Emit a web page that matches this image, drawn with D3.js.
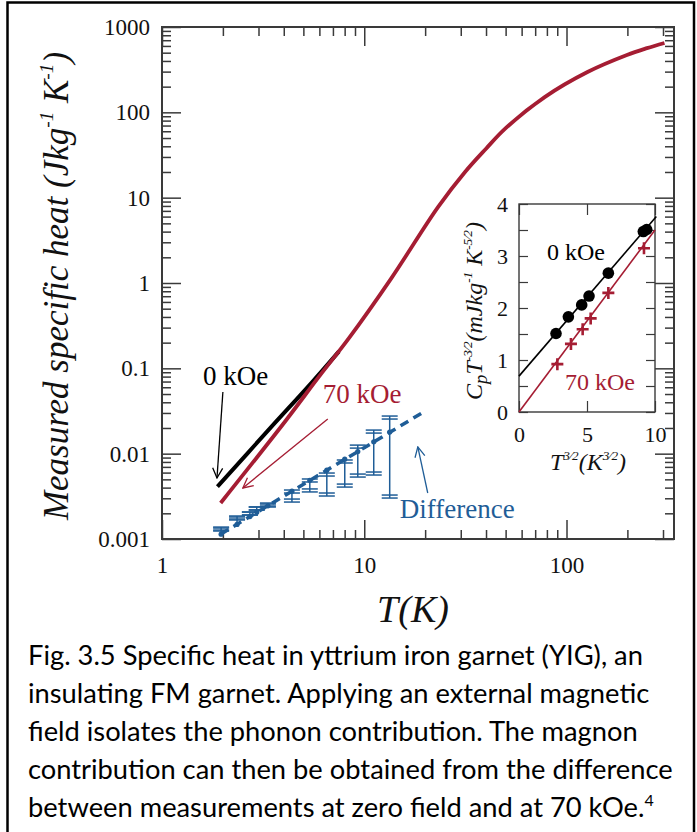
<!DOCTYPE html>
<html>
<head>
<meta charset="utf-8">
<script src="https://cdn.jsdelivr.net/npm/d3@7"></script>
<style>
  body { margin: 0; background: #fff; }
</style>
</head>
<body>
<div id="chart"></div>
<script>
// ---- data ----
// 0 kOe measurement (only the low-T part separates from 70 kOe)
const zeroT = [1.88, 3.4, 5.5, 7.5];
const zeroC = [0.0041, 0.0195, 0.068, 0.158];
// 70 kOe measurement
const fieldT = [1.95, 4.07, 6.0, 8.4, 13.6, 23.2, 31.5, 40, 49.6, 78, 127, 199, 250, 305];
const fieldC = [0.00264, 0.024, 0.081, 0.226, 1.135, 7.8, 20.0, 37.5, 64, 151, 297, 470, 565, 650];
// difference (magnon part) with error bars
const diffT = [1.96, 2.35, 2.72, 2.94, 3.34, 4.39, 5.38, 6.53, 8.01, 9.29, 11.14, 13.36];
const diffMid = [0.00114, 0.00148, 0.00183, 0.00206, 0.00245, 0.00363, 0.00488, 0.00641, 0.00861, 0.0106, 0.0138, 0.0179];
const diffHi = [0.00138, 0.00186, 0.00207, 0.00237, 0.00264, 0.00375, 0.00505, 0.00593, 0.00843, 0.0126, 0.0189, 0.0276];
const diffLo = [0.00124, 0.00167, 0.00191, 0.00219, 0.00237, 0.00271, 0.00356, 0.00319, 0.00406, 0.00532, 0.00562, 0.00302];
// T^3/2 fit of the difference
const fitT = [1.95, 20];
const fitC = [0.00114, 0.0316];

// inset: C T^-3/2 vs T^3/2
const inZeroX = [2.72, 3.63, 4.61, 5.15, 6.57, 9.14, 9.39];
const inZeroY = [1.51, 1.83, 2.06, 2.23, 2.67, 3.47, 3.51];
const inFieldX = [2.82, 3.82, 4.68, 5.27, 6.57, 9.19];
const inFieldY = [0.92, 1.31, 1.59, 1.80, 2.29, 3.15];
const inZeroFitX = [0, 10.1];
const inZeroFitY = [0.69, 3.76];
const inFieldFitX = [0, 10.0];
const inFieldFitY = [0, 3.5];

// ticks
const xMajor = [1, 10, 100];
const xMinor = [2, 3, 4, 5, 6, 7, 8, 9, 20, 30, 40, 50, 60, 70, 80, 90, 200, 300];
const yMajor = [0.001, 0.01, 0.1, 1, 10, 100, 1000];
const yMinor = [0.001, 0.01, 0.1, 1, 10, 100]
  .flatMap(d => [2, 3, 4, 5, 6, 7, 8, 9].map(k => +(d * k).toPrecision(3)));
const inXTicks = [0, 5, 10];
const inYTicks = [0, 1, 2, 3, 4];
const inYMinor = [0.5, 1.5, 2.5, 3.5];

const caption = [
  'Fig. 3.5 Specific heat in yttrium iron garnet (YIG), an',
  'insulating FM garnet. Applying an external magnetic',
  'field isolates the phonon contribution. The magnon',
  'contribution can then be obtained from the difference',
  'between measurements at zero field and at 70 kOe.'
];

// ---- drawing ----
const serif = '"Liberation Serif", "Times New Roman", serif';
const red = '#a51d33';
const blue = '#1f5d97';
const axisCol = '#3a3a3a';

const svg = d3.select('#chart')
  .append('svg')
  .attr('width', 697)
  .attr('height', 832);

// outer frame
svg.append('rect')
  .attr('x', 7.5).attr('y', 2.5)
  .attr('width', 686.5).attr('height', 860)
  .attr('fill', 'none').attr('stroke', '#000').attr('stroke-width', 2.5);

svg.append('defs').selectAll('marker')
  .data([['ahBlack', '#000'], ['ahRed', red], ['ahBlue', blue]])
  .enter()
  .append('marker')
  .attr('id', d => d[0])
  .attr('viewBox', '0 0 12 12')
  .attr('refX', 11).attr('refY', 6)
  .attr('markerWidth', 12).attr('markerHeight', 12)
  .attr('markerUnits', 'userSpaceOnUse')
  .attr('orient', 'auto')
  .append('path')
  .attr('d', 'M1,1 L11,6 L1,11')
  .attr('fill', 'none')
  .attr('stroke', d => d[1])
  .attr('stroke-width', 1.3);

function rich(sel, parts, size) {
  let shift = 0;
  parts.forEach(p => {
    const target = p.sup ? -0.42 * size : p.sub ? 0.22 * size : 0;
    sel.append('tspan')
      .attr('dy', target - shift)
      .attr('font-size', p.sup ? size * 0.55 : p.sub ? size * 0.78 : size)
      .text(p.t);
    shift = target;
  });
}

const margin = {top: 27, right: 23, bottom: 293, left: 162};
const width = 697 - margin.left - margin.right;
const height = 832 - margin.top - margin.bottom;

const g = svg.append('g')
  .attr('transform', 'translate(' + margin.left + ',' + margin.top + ')');

const x = d3.scaleLog().domain([1, 340]).range([0, width]);
const y = d3.scaleLog().domain([0.001, 1000]).range([height, 0]);

function styleAxis(a, size) {
  a.select('.domain').remove();
  a.selectAll('line').attr('stroke', axisCol).attr('stroke-width', 1.5);
  a.selectAll('text').attr('fill', '#111');
  a.attr('font-family', serif).attr('font-size', size);
}

// major ticks with labels
g.append('g')
  .call(d3.axisLeft(y).tickValues(yMajor).tickSize(-19).tickPadding(12).tickFormat(d3.format('~g')))
  .call(a => styleAxis(a, 23));
g.append('g')
  .attr('transform', 'translate(0,' + height + ')')
  .call(d3.axisBottom(x).tickValues(xMajor).tickSize(-19).tickPadding(18).tickFormat(d3.format('~g')))
  .call(a => styleAxis(a, 23));
g.append('g')
  .attr('transform', 'translate(' + width + ',0)')
  .call(d3.axisRight(y).tickValues(yMajor).tickSize(-19).tickFormat(''))
  .call(a => styleAxis(a, 23));
g.append('g')
  .call(d3.axisTop(x).tickValues(xMajor).tickSize(-19).tickFormat(''))
  .call(a => styleAxis(a, 23));
// minor ticks
g.append('g')
  .call(d3.axisLeft(y).tickValues(yMinor).tickSize(-9).tickFormat(''))
  .call(a => styleAxis(a, 23));
g.append('g')
  .attr('transform', 'translate(' + width + ',0)')
  .call(d3.axisRight(y).tickValues(yMinor).tickSize(-9).tickFormat(''))
  .call(a => styleAxis(a, 23));
g.append('g')
  .attr('transform', 'translate(0,' + height + ')')
  .call(d3.axisBottom(x).tickValues(xMinor).tickSize(-9).tickFormat(''))
  .call(a => styleAxis(a, 23));
g.append('g')
  .call(d3.axisTop(x).tickValues(xMinor).tickSize(-9).tickFormat(''))
  .call(a => styleAxis(a, 23));

g.append('rect')
  .attr('width', width).attr('height', height)
  .attr('fill', 'none').attr('stroke', axisCol).attr('stroke-width', 2);

// axis titles
const yTitle = svg.append('text')
  .attr('transform', 'translate(68,286) rotate(-90)')
  .attr('text-anchor', 'middle')
  .attr('font-family', serif).attr('font-style', 'italic')
  .attr('fill', '#111');
rich(yTitle, [
  {t: 'Measured specific heat (Jkg'}, {t: '-1', sup: true}, {t: ' K'}, {t: '-1', sup: true}, {t: ')'}
], 35);

svg.append('text')
  .attr('x', 413).attr('y', 622)
  .attr('text-anchor', 'middle')
  .attr('font-family', serif).attr('font-style', 'italic').attr('font-size', 38)
  .attr('fill', '#111')
  .text('T(K)');

// curves
const line = d3.line()
  .x(d => x(d[0]))
  .y(d => y(d[1]))
  .curve(d3.curveCatmullRom.alpha(0.5));

g.append('path')
  .datum(d3.zip(zeroT, zeroC))
  .attr('d', line)
  .attr('fill', 'none').attr('stroke', '#000').attr('stroke-width', 4);

g.append('path')
  .datum(d3.zip(fieldT, fieldC))
  .attr('d', line)
  .attr('fill', 'none').attr('stroke', red).attr('stroke-width', 3.8);

// difference error bars
const bars = g.append('g')
  .attr('stroke', blue).attr('stroke-width', 1.5).attr('fill', 'none');
diffT.forEach((t, i) => {
  const cx = x(t);
  const top = Math.max(diffHi[i], diffMid[i]);
  const bot = Math.min(diffLo[i], diffMid[i]);
  bars.append('line')
    .attr('x1', cx).attr('x2', cx)
    .attr('y1', y(top)).attr('y2', y(bot));
  [[diffHi[i], 3], [diffLo[i], -3]].forEach(([v, off]) => {
    [0, off].forEach(o => {
      bars.append('line')
        .attr('x1', cx - 8).attr('x2', cx + 8)
        .attr('y1', y(v) + o).attr('y2', y(v) + o);
    });
  });
});

g.append('path')
  .datum(d3.zip(fitT, fitC))
  .attr('d', d3.line().x(d => x(d[0])).y(d => y(d[1])))
  .attr('fill', 'none').attr('stroke', blue)
  .attr('stroke-width', 3.5).attr('stroke-dasharray', '9,6');

g.append('g')
  .selectAll('circle')
  .data(d3.zip(diffT, diffMid))
  .enter()
  .append('circle')
  .attr('cx', d => x(d[0]))
  .attr('cy', d => y(d[1]))
  .attr('r', 2.6)
  .attr('fill', blue);

// annotations (placed in data units)
const notes = [
  {text: '0 kOe', col: '#000', at: [1.594, 0.0638], from: [2.0, 0.0528], to: [1.87, 0.00519], mk: 'ahBlack'},
  {text: '70 kOe', col: red, at: [6.24, 0.0393], from: [6.6, 0.0255], to: [2.51, 0.00396], mk: 'ahRed'},
  {text: 'Difference', col: blue, at: [15.0, 0.00176], from: [20.6, 0.00346], to: [18.4, 0.012], mk: 'ahBlue'}
];
notes.forEach(n => {
  g.append('text')
    .attr('x', x(n.at[0])).attr('y', y(n.at[1]))
    .attr('font-family', serif).attr('font-size', 27)
    .attr('fill', n.col)
    .text(n.text);
  g.append('line')
    .attr('x1', x(n.from[0])).attr('y1', y(n.from[1]))
    .attr('x2', x(n.to[0])).attr('y2', y(n.to[1]))
    .attr('stroke', n.col).attr('stroke-width', 1.3)
    .attr('marker-end', 'url(#' + n.mk + ')');
});

// ---- inset ----
const ix = d3.scaleLinear().domain([0, 10]).range([519, 655]);
const iy = d3.scaleLinear().domain([0, 4]).range([412, 204]);
const inset = svg.append('g');

inset.append('rect')
  .attr('x', 519).attr('y', 204)
  .attr('width', 136).attr('height', 208)
  .attr('fill', '#fff');

inset.append('g')
  .attr('transform', 'translate(519,0)')
  .call(d3.axisLeft(iy).tickValues(inYTicks).tickSize(-9).tickPadding(11).tickFormat(d3.format('d')))
  .call(a => styleAxis(a, 22));
inset.append('g')
  .attr('transform', 'translate(519,0)')
  .call(d3.axisLeft(iy).tickValues(inYMinor).tickSize(-9).tickFormat(''))
  .call(a => styleAxis(a, 22));
inset.append('g')
  .attr('transform', 'translate(655,0)')
  .call(d3.axisRight(iy).tickValues(inYTicks.concat(inYMinor)).tickSize(-9).tickFormat(''))
  .call(a => styleAxis(a, 22));
inset.append('g')
  .attr('transform', 'translate(0,412)')
  .call(d3.axisBottom(ix).tickValues(inXTicks).tickSize(-11).tickPadding(14).tickFormat(d3.format('d')))
  .call(a => styleAxis(a, 22));
inset.append('g')
  .attr('transform', 'translate(0,204)')
  .call(d3.axisTop(ix).tickValues(inXTicks).tickSize(-11).tickFormat(''))
  .call(a => styleAxis(a, 22));
inset.selectAll('line').attr('stroke-width', 1.2);

inset.append('rect')
  .attr('x', 519).attr('y', 204)
  .attr('width', 136).attr('height', 208)
  .attr('fill', 'none').attr('stroke', axisCol).attr('stroke-width', 1.4);

const iline = d3.line().x(d => ix(d[0])).y(d => iy(d[1]));
inset.append('path')
  .datum(d3.zip(inZeroFitX, inZeroFitY))
  .attr('d', iline)
  .attr('fill', 'none').attr('stroke', '#000').attr('stroke-width', 1.6);
inset.append('path')
  .datum(d3.zip(inFieldFitX, inFieldFitY))
  .attr('d', iline)
  .attr('fill', 'none').attr('stroke', red).attr('stroke-width', 1.6);

inset.append('g')
  .selectAll('circle')
  .data(d3.zip(inZeroX, inZeroY))
  .enter()
  .append('circle')
  .attr('cx', d => ix(d[0]))
  .attr('cy', d => iy(d[1]))
  .attr('r', 5.8)
  .attr('fill', '#000');

inset.append('g')
  .selectAll('path')
  .data(d3.zip(inFieldX, inFieldY))
  .enter()
  .append('path')
  .attr('d', d => {
    const px = ix(d[0]), py = iy(d[1]);
    return 'M' + (px - 6) + ',' + py + 'H' + (px + 6) + 'M' + px + ',' + (py - 6) + 'V' + (py + 6);
  })
  .attr('stroke', red).attr('stroke-width', 2.6);

inset.append('text')
  .attr('x', ix(2.06)).attr('y', iy(2.92))
  .attr('font-family', serif).attr('font-size', 24).attr('fill', '#000')
  .text('0 kOe');
inset.append('text')
  .attr('x', ix(3.38)).attr('y', iy(0.42))
  .attr('font-family', serif).attr('font-size', 24).attr('fill', red)
  .text('70 kOe');

const iyTitle = svg.append('text')
  .attr('transform', 'translate(482,311) rotate(-90)')
  .attr('text-anchor', 'middle')
  .attr('font-family', serif).attr('font-style', 'italic')
  .attr('fill', '#111');
rich(iyTitle, [
  {t: 'C'}, {t: 'p', sub: true}, {t: 'T'}, {t: '-3\u20442', sup: true},
  {t: '(mJkg'}, {t: '-1', sup: true}, {t: ' K'}, {t: '-5\u20442', sup: true}, {t: ')'}
], 24);

const ixTitle = svg.append('text')
  .attr('x', 588).attr('y', 470)
  .attr('text-anchor', 'middle')
  .attr('font-family', serif).attr('font-style', 'italic')
  .attr('fill', '#111');
rich(ixTitle, [
  {t: 'T'}, {t: '3\u20442', sup: true}, {t: '(K'}, {t: '3\u20442', sup: true}, {t: ')'}
], 24);

// ---- caption ----
const cap = svg.append('g')
  .attr('font-family', 'Lato, "Open Sans", sans-serif')
  .attr('font-size', 27.3)
  .attr('fill', '#000');
caption.forEach((s, i) => {
  const t = cap.append('text')
    .attr('x', 28).attr('y', 665 + i * 38)
    .text(s);
  if (i === caption.length - 1) {
    t.append('tspan').attr('dy', -11).attr('font-size', 16).text('4');
  }
});
</script>
</body>
</html>
